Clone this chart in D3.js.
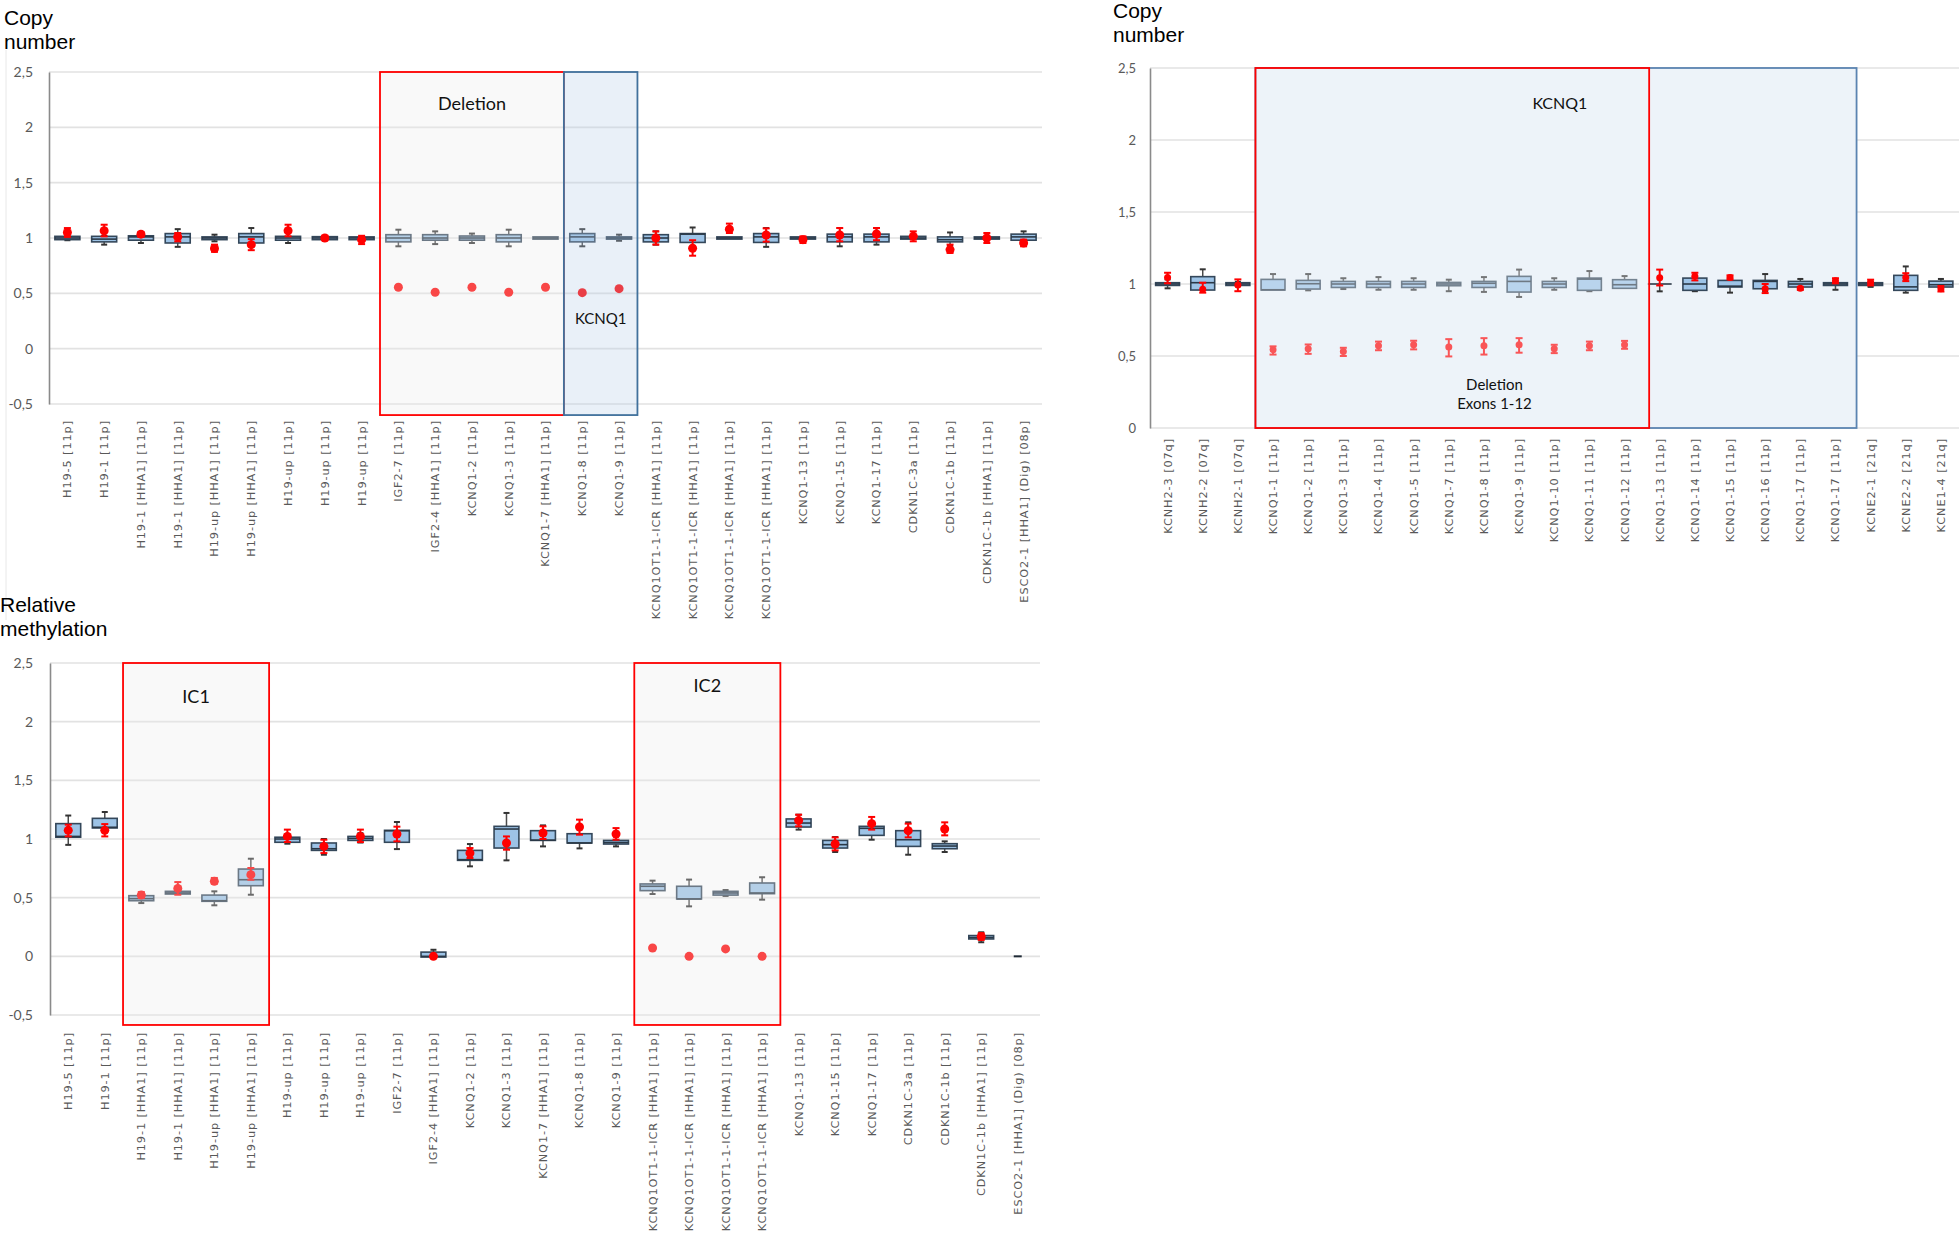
<!DOCTYPE html>
<html><head><meta charset="utf-8">
<script src="https://cdn.jsdelivr.net/npm/d3@7"></script>
<style>body{margin:0;background:#fff} svg{display:block}</style>
</head><body>
<script>
// ---------- DATA ----------
const imprintCategories = ["H19-5 [11p]","H19-1 [11p]","H19-1 [HHA1] [11p]","H19-1 [HHA1] [11p]","H19-up [HHA1] [11p]","H19-up [HHA1] [11p]","H19-up [11p]","H19-up [11p]","H19-up [11p]","IGF2-7 [11p]","IGF2-4 [HHA1] [11p]","KCNQ1-2 [11p]","KCNQ1-3 [11p]","KCNQ1-7 [HHA1] [11p]","KCNQ1-8 [11p]","KCNQ1-9 [11p]","KCNQ1OT1-1-ICR [HHA1] [11p]","KCNQ1OT1-1-ICR [HHA1] [11p]","KCNQ1OT1-1-ICR [HHA1] [11p]","KCNQ1OT1-1-ICR [HHA1] [11p]","KCNQ1-13 [11p]","KCNQ1-15 [11p]","KCNQ1-17 [11p]","CDKN1C-3a [11p]","CDKN1C-1b [11p]","CDKN1C-1b [HHA1] [11p]","ESCO2-1 [HHA1] (Dig) [08p]"];
const kcnqCategories = ["KCNH2-3 [07q]","KCNH2-2 [07q]","KCNH2-1 [07q]","KCNQ1-1 [11p]","KCNQ1-2 [11p]","KCNQ1-3 [11p]","KCNQ1-4 [11p]","KCNQ1-5 [11p]","KCNQ1-7 [11p]","KCNQ1-8 [11p]","KCNQ1-9 [11p]","KCNQ1-10 [11p]","KCNQ1-11 [11p]","KCNQ1-12 [11p]","KCNQ1-13 [11p]","KCNQ1-14 [11p]","KCNQ1-15 [11p]","KCNQ1-16 [11p]","KCNQ1-17 [11p]","KCNQ1-17 [11p]","KCNE2-1 [21q]","KCNE2-2 [21q]","KCNE1-4 [21q]"];
const yTicksFull = [-0.5, 0, 0.5, 1, 1.5, 2, 2.5];
const yTicksPos = [0, 0.5, 1, 1.5, 2, 2.5];

// Copy number, top-left: box stats [min, q1, median, q3, max]
const cnImprintBoxes = [[0.98,0.985,1.0,1.015,1.02],[0.94,0.965,0.99,1.015,1.02],[0.955,0.98,1.01,1.02,1.045],[0.92,0.955,1.01,1.04,1.08],[0.97,0.985,1.0,1.01,1.03],[0.92,0.955,1.01,1.04,1.09],[0.955,0.98,1.0,1.015,1.015],[0.985,0.985,1.0,1.012,1.012],[0.985,0.985,1.0,1.01,1.01],[0.925,0.965,1.0,1.03,1.075],[0.945,0.98,1.0,1.03,1.06],[0.955,0.98,1.0,1.018,1.04],[0.925,0.965,1.0,1.03,1.075],[0.99,0.99,1.0,1.01,1.01],[0.925,0.965,1.01,1.04,1.08],[0.975,0.99,1.0,1.01,1.03],[0.94,0.965,1.0,1.03,1.06],[0.96,0.96,1.035,1.04,1.095],[0.99,0.99,1.0,1.01,1.01],[0.92,0.96,1.01,1.04,1.09],[0.99,0.99,1.0,1.01,1.01],[0.925,0.965,1.01,1.035,1.09],[0.94,0.965,1.01,1.035,1.09],[0.99,0.99,1.0,1.015,1.015],[0.93,0.965,0.985,1.01,1.05],[0.99,0.99,1.0,1.01,1.01],[0.955,0.98,1.01,1.035,1.06]];
const cnImprintMean = [1.05,1.065,1.035,1.01,0.905,0.94,1.065,1.0,0.985,0.555,0.51,0.555,0.51,0.555,0.506,0.542,1.0,0.907,1.08,1.027,0.985,1.027,1.036,1.015,0.895,1.0,0.955];
const cnImprintLow  = [1.01,1.015,1.01,0.97,0.875,0.89,1.015,0.98,0.945,0.555,0.51,0.555,0.51,0.555,0.506,0.542,0.94,0.84,1.045,0.967,0.955,0.97,0.98,0.97,0.865,0.955,0.925];
const cnImprintHigh = [1.09,1.12,1.055,1.045,0.94,0.99,1.12,1.02,1.02,0.555,0.51,0.555,0.51,0.555,0.506,0.542,1.06,0.98,1.13,1.087,1.015,1.09,1.09,1.06,0.94,1.045,0.985];

// Copy number, top-right
const cnKcnqBoxes = [[0.97,0.99,1.0,1.009,1.032],[0.958,0.958,1.009,1.051,1.102],[0.985,0.99,1.0,1.009,1.015],[0.958,0.958,0.96,1.032,1.069],[0.956,0.965,1.002,1.025,1.069],[0.965,0.976,1.0,1.018,1.04],[0.96,0.976,1.0,1.018,1.048],[0.96,0.976,1.0,1.018,1.04],[0.95,0.988,1.0,1.011,1.03],[0.945,0.976,1.005,1.018,1.048],[0.91,0.944,1.018,1.053,1.1],[0.96,0.976,1.0,1.018,1.04],[0.95,0.956,1.034,1.041,1.09],[0.97,0.97,0.995,1.03,1.055],[0.949,1.0,1.0,1.0,1.0],[0.95,0.956,1.0,1.041,1.041],[0.94,0.979,0.985,1.025,1.025],[0.95,0.967,1.018,1.025,1.069],[0.96,0.979,1.0,1.018,1.035],[0.96,0.99,1.0,1.009,1.009],[0.98,0.99,1.0,1.009,1.015],[0.94,0.956,0.98,1.06,1.122],[0.97,0.979,0.995,1.02,1.035]];
const cnKcnqMean = [1.046,0.963,0.993,0.544,0.551,0.532,0.571,0.578,0.562,0.571,0.578,0.551,0.571,0.578,1.044,1.053,1.046,0.967,0.97,1.023,1.011,1.046,0.967];
const cnKcnqLow  = [1.005,0.94,0.95,0.51,0.515,0.5,0.54,0.546,0.497,0.51,0.523,0.52,0.54,0.55,0.99,1.025,1.032,0.937,0.96,1.005,0.99,1.02,0.948];
const cnKcnqHigh = [1.078,1.009,1.032,0.567,0.58,0.557,0.6,0.606,0.617,0.624,0.624,0.578,0.6,0.605,1.1,1.078,1.06,1.0,0.98,1.04,1.03,1.075,0.986];

// Relative methylation, bottom-left
const methBoxes = [[0.95,1.015,1.022,1.131,1.2],[1.094,1.094,1.1,1.176,1.23],[0.454,0.474,0.492,0.517,0.534],[0.531,0.531,0.54,0.554,0.554],[0.435,0.469,0.474,0.522,0.554],[0.525,0.602,0.653,0.744,0.832],[0.96,0.972,1.0,1.015,1.04],[0.866,0.903,0.917,0.966,1.0],[0.97,0.988,1.005,1.022,1.05],[0.914,0.972,1.07,1.074,1.145],[-0.006,-0.006,0.0,0.036,0.056],[0.767,0.818,0.824,0.903,0.957],[0.818,0.923,1.085,1.108,1.222],[0.937,0.988,0.99,1.071,1.116],[0.92,0.966,0.966,1.045,1.045],[0.937,0.957,0.97,0.988,0.988],[0.531,0.56,0.597,0.617,0.645],[0.426,0.489,0.489,0.597,0.654],[0.515,0.522,0.54,0.554,0.565],[0.483,0.534,0.54,0.625,0.674],[1.08,1.102,1.136,1.171,1.207],[0.889,0.923,0.952,0.988,1.017],[0.994,1.031,1.091,1.108,1.145],[0.866,0.937,0.994,1.071,1.142],[0.889,0.917,0.94,0.96,0.98],[0.12,0.148,0.16,0.177,0.205],[0,0,0,0,0]];
const methMean = [1.074,1.074,0.522,0.579,0.639,0.696,1.022,0.937,1.022,1.043,0.0,0.88,0.966,1.051,1.102,1.043,0.071,0.0,0.063,0.0,1.157,0.957,1.131,1.071,1.085,0.168,null];
const methLow  = [1.022,1.022,0.498,0.525,0.619,0.653,0.974,0.88,0.974,0.98,0.0,0.838,0.909,1.0,1.037,0.994,0.063,0.0,0.063,0.0,1.108,0.903,1.08,1.014,1.031,0.14,null];
const methHigh = [1.122,1.127,0.548,0.633,0.668,0.753,1.08,0.994,1.08,1.105,0.0,0.923,1.022,1.108,1.165,1.093,0.085,0.0,0.063,0.0,1.207,1.014,1.188,1.131,1.142,0.196,null];

// ---------- DRAW ----------
const W = 1959, H = 1238;
const svg = d3.select("body").append("svg").attr("width", W).attr("height", H);
const fmt = d => String(d).replace(".", ",");

function panel(o) {
  const g = svg.append("g");
  const n = o.cats.length;
  const x = d3.scaleBand().domain(d3.range(n)).range(o.xRange).paddingInner(0).paddingOuter(0);
  const y = d3.scaleLinear().domain(o.yDomain).range(o.yRange);
  const step = x.step();
  const xAt = u => o.xRange[0] + u * step;
  const cx = i => x(i) + x.bandwidth() / 2;

  // gridlines
  g.append("g").selectAll("line").data(o.ticks).join("line")
    .attr("x1", o.xRange[0]).attr("x2", o.gridRight)
    .attr("y1", d => y(d)).attr("y2", d => y(d))
    .attr("stroke", "#e2e2e2").attr("stroke-width", 1.6);

  const drawOverlay = (ov) => {
    g.append("rect")
      .attr("x", xAt(ov.from)).attr("y", y(ov.v0))
      .attr("width", xAt(ov.to) - xAt(ov.from)).attr("height", y(ov.v1) - y(ov.v0))
      .attr("fill", ov.fill).attr("fill-opacity", ov.op)
      .attr("stroke", ov.stroke).attr("stroke-width", ov.sw || 1.8);
  };
  (o.back || []).forEach(drawOverlay);

  // boxes
  const bw = x.bandwidth() * 0.68, cap = 6;
  const bg = g.append("g");
  o.boxes.forEach((b, i) => {
    const [mn, q1, md, q3, mx] = b;
    const c = cx(i);
    const s = bg.append("g");
    if (mn === mx && q1 === q3) {
      s.append("line").attr("x1", c - 4).attr("x2", c + 4).attr("y1", y(md)).attr("y2", y(md))
        .attr("stroke", "#1f2a36").attr("stroke-width", 2);
      return;
    }
    if (mx > q3) {
      s.append("line").attr("x1", c).attr("x2", c).attr("y1", y(mx)).attr("y2", y(q3)).attr("stroke", "#4a4a4a").attr("stroke-width", 1.5);
      s.append("line").attr("x1", c - cap/2).attr("x2", c + cap/2).attr("y1", y(mx)).attr("y2", y(mx)).attr("stroke", "#333").attr("stroke-width", 2);
    }
    if (mn < q1) {
      s.append("line").attr("x1", c).attr("x2", c).attr("y1", y(q1)).attr("y2", y(mn)).attr("stroke", "#4a4a4a").attr("stroke-width", 1.5);
      s.append("line").attr("x1", c - cap/2).attr("x2", c + cap/2).attr("y1", y(mn)).attr("y2", y(mn)).attr("stroke", "#333").attr("stroke-width", 2);
    }
    s.append("rect").attr("x", c - bw/2).attr("y", y(q3)).attr("width", bw).attr("height", Math.max(0, y(q1) - y(q3)))
      .attr("fill", "#9dc3e6").attr("stroke", "#34475a").attr("stroke-width", 1.6);
    s.append("line").attr("x1", c - bw/2).attr("x2", c + bw/2).attr("y1", y(md)).attr("y2", y(md))
      .attr("stroke", "#2a3846").attr("stroke-width", 1.6);
  });

  // mean dots + error bars
  const dg = g.append("g");
  o.mean.forEach((m, i) => {
    if (m === null) return;
    const c = cx(i), lo = o.low[i], hi = o.high[i];
    if (hi - lo > 0.001) {
      dg.append("line").attr("x1", c).attr("x2", c).attr("y1", y(hi)).attr("y2", y(lo)).attr("stroke", "#ff0000").attr("stroke-width", 2);
      [hi, lo].forEach(v => dg.append("line").attr("x1", c - 3.5).attr("x2", c + 3.5).attr("y1", y(v)).attr("y2", y(v)).attr("stroke", "#ff0000").attr("stroke-width", 2));
    }
    dg.append("circle").attr("cx", c).attr("cy", y(m)).attr("r", o.dotR).attr("fill", "#ff0000");
  });

  (o.front || []).forEach(drawOverlay);

  // annotations
  (o.notes || []).forEach(t => {
    g.append("text").attr("x", xAt(t.u)).attr("y", y(t.v)).attr("text-anchor", "middle")
      .attr("dominant-baseline", "central")
      .style("font-family", "Lato, 'Open Sans', sans-serif").style("font-size", t.size + "px").attr("fill", "#111")
      .text(t.text);
  });

  // y axis
  const ya = g.append("g").attr("transform", `translate(${o.xRange[0]},0)`)
    .call(d3.axisLeft(y).tickValues(o.ticks).tickFormat(fmt).tickSize(0).tickSizeOuter(0).tickPadding(o.xRange[0] - o.tickRight));
  ya.select(".domain").attr("stroke", "#8a8a8a").attr("stroke-width", 1.6);
  ya.selectAll("text").style("font-family", "Lato, sans-serif").style("font-size", o.tickSize + "px").attr("fill", "#595959");

  // x axis labels
  const xa = g.append("g").attr("transform", `translate(0,${o.labelTop})`)
    .call(d3.axisBottom(x).tickFormat(i => o.cats[i]).tickSize(0).tickPadding(0));
  xa.select(".domain").remove();
  xa.selectAll("text")
    .attr("transform", "rotate(-90)").attr("text-anchor", "end").attr("x", 0).attr("y", 0).attr("dy", "0.35em")
    .style("font-family", "'DejaVu Sans', sans-serif").style("font-size", "11.3px").style("letter-spacing", "0.9px")
    .attr("fill", "#595959");

  // title
  const tt = svg.append("text").attr("x", o.titleX).attr("y", o.titleY)
    .style("font-family", "'Liberation Sans', Arial, sans-serif").style("font-size", "21px").attr("fill", "#000");
  o.title.forEach((line, k) => tt.append("tspan").attr("x", o.titleX).attr("dy", k === 0 ? 0 : 23.5).text(line));
}

// faint frame line at far left
svg.append("line").attr("x1", 6).attr("x2", 6).attr("y1", 50).attr("y2", 620).attr("stroke", "#e8e8e8").attr("stroke-width", 1);

panel({
  cats: imprintCategories, boxes: cnImprintBoxes, mean: cnImprintMean, low: cnImprintLow, high: cnImprintHigh,
  xRange: [49, 1042], gridRight: 1042, yDomain: [-0.5, 2.5], yRange: [404, 72], ticks: yTicksFull,
  tickRight: 33, tickSize: 14, labelTop: 420, dotR: 4.5,
  title: ["Copy", "number"], titleX: 4, titleY: 25,
  front: [
    {from: 9, to: 14, v0: 2.5, v1: -0.6, fill: "#ececec", op: 0.3, stroke: "#ff0000"},
    {from: 14, to: 16, v0: 2.5, v1: -0.6, fill: "#b6cde8", op: 0.3, stroke: "#41719c"}
  ],
  notes: [
    {text: "Deletion", u: 11.5, v: 2.22, size: 18},
    {text: "KCNQ1", u: 15, v: 0.277, size: 15}
  ]
});

panel({
  cats: kcnqCategories, boxes: cnKcnqBoxes, mean: cnKcnqMean, low: cnKcnqLow, high: cnKcnqHigh,
  xRange: [1150, 1958.5], gridRight: 1959, yDomain: [0, 2.5], yRange: [428, 68], ticks: yTicksPos,
  tickRight: 1136, tickSize: 13, labelTop: 438, dotR: 3.5,
  title: ["Copy", "number"], titleX: 1113, titleY: 18,
  back: [
    {from: 3, to: 20.1, v0: 2.5, v1: 0, fill: "#edf3f9", op: 1, stroke: "#5b84b1"}
  ],
  front: [
    {from: 3, to: 14.2, v0: 2.5, v1: 0, fill: "#edf3f9", op: 0.35, stroke: "#ff0000"}
  ],
  notes: [
    {text: "KCNQ1", u: 11.66, v: 2.257, size: 16},
    {text: "Deletion", u: 9.8, v: 0.306, size: 15},
    {text: "Exons 1-12", u: 9.8, v: 0.174, size: 15}
  ]
});

panel({
  cats: imprintCategories, boxes: methBoxes, mean: methMean, low: methLow, high: methHigh,
  xRange: [50, 1036], gridRight: 1040, yDomain: [-0.5, 2.5], yRange: [1015, 663], ticks: yTicksFull,
  tickRight: 33, tickSize: 14, labelTop: 1032, dotR: 4.5,
  title: ["Relative", "methylation"], titleX: 0, titleY: 612,
  front: [
    {from: 2, to: 6, v0: 2.5, v1: -0.585, fill: "#ececec", op: 0.3, stroke: "#ff0000"},
    {from: 16, to: 20, v0: 2.5, v1: -0.585, fill: "#ececec", op: 0.3, stroke: "#ff0000"}
  ],
  notes: [
    {text: "IC1", u: 4, v: 2.22, size: 18},
    {text: "IC2", u: 18, v: 2.31, size: 18}
  ]
});
</script>
</body></html>
